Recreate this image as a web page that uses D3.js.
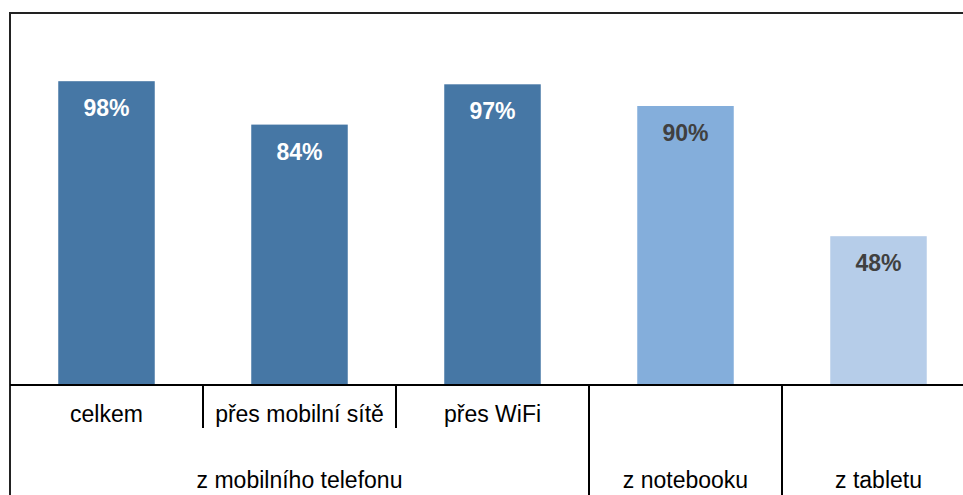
<!DOCTYPE html>
<html><head><meta charset="utf-8">
<script src="https://cdn.jsdelivr.net/npm/d3@7"></script>
<style>html,body{margin:0;padding:0;background:#fff;overflow:hidden}svg{display:block}</style>
</head><body>
<script>
const categories = ["celkem", "přes mobilní sítě", "přes WiFi", "notebook", "tablet"];
const subLabels = ["celkem", "přes mobilní sítě", "přes WiFi", "", ""];
const groups = [
  {name: "z mobilního telefonu", from: 0, to: 2},
  {name: "z notebooku", from: 3, to: 3},
  {name: "z tabletu", from: 4, to: 4}
];
const values = [98, 84, 97, 90, 48];
const valueLabels = ["98%", "84%", "97%", "90%", "48%"];
const barColors = ["#4677a5", "#4677a5", "#4677a5", "#84aedb", "#b6cde9"];
const labelColors = ["#ffffff", "#ffffff", "#ffffff", "#404040", "#404040"];

(function () {
const W = 963, H = 495;
const pLeft = 10, pRight = 975, pTop = 13, base = 385;
const svg = d3.select("body").append("svg").attr("width", W).attr("height", H);

const x = d3.scaleBand().domain(d3.range(categories.length)).range([pLeft, pRight])
  .paddingInner(0.5).paddingOuter(0.25);
const y = d3.scaleLinear().domain([0, 120]).range([base, pTop]);
const step = x.step();
const boundary = k => pLeft + k * step;

svg.selectAll("rect.bar").data(values).join("rect").attr("class", "bar")
  .attr("x", (d, i) => x(i)).attr("width", x.bandwidth())
  .attr("y", d => y(d)).attr("height", d => y(0) - y(d))
  .attr("fill", (d, i) => barColors[i]);

svg.selectAll("text.val").data(values).join("text").attr("class", "val")
  .attr("x", (d, i) => x(i) + x.bandwidth() / 2).attr("y", d => y(d) + 35)
  .attr("text-anchor", "middle")
  .attr("font-family", "Liberation Sans, Arial, sans-serif")
  .attr("font-weight", "bold").attr("font-size", 23)
  .attr("fill", (d, i) => labelColors[i])
  .text((d, i) => valueLabels[i]);

svg.append("line").attr("x1", pLeft).attr("x2", pRight).attr("y1", pTop).attr("y2", pTop)
  .attr("stroke", "#222").attr("stroke-width", 2);
svg.append("line").attr("x1", pLeft).attr("x2", pLeft).attr("y1", pTop - 1).attr("y2", H)
  .attr("stroke", "#222").attr("stroke-width", 2);
svg.append("line").attr("x1", pLeft).attr("x2", pRight).attr("y1", base).attr("y2", base)
  .attr("stroke", "#000").attr("stroke-width", 2);

groups.forEach(g => {
  for (let k = g.from + 1; k <= g.to; k++) {
    svg.append("line").attr("x1", boundary(k)).attr("x2", boundary(k))
      .attr("y1", base).attr("y2", 428).attr("stroke", "#000").attr("stroke-width", 2);
  }
  if (g.from > 0) {
    svg.append("line").attr("x1", boundary(g.from)).attr("x2", boundary(g.from))
      .attr("y1", base).attr("y2", H).attr("stroke", "#000").attr("stroke-width", 2);
  }
});

svg.selectAll("text.sub").data(subLabels).join("text").attr("class", "sub")
  .attr("x", (d, i) => x(i) + x.bandwidth() / 2).attr("y", 422)
  .attr("text-anchor", "middle")
  .attr("font-family", "Liberation Sans, Arial, sans-serif").attr("font-size", 23)
  .attr("fill", "#000").text(d => d);

svg.selectAll("text.grp").data(groups).join("text").attr("class", "grp")
  .attr("x", g => (boundary(g.from) + boundary(g.to + 1)) / 2).attr("y", 488)
  .attr("text-anchor", "middle")
  .attr("font-family", "Liberation Sans, Arial, sans-serif").attr("font-size", 23)
  .attr("fill", "#000").text(g => g.name);
})();
</script>
</body></html>
